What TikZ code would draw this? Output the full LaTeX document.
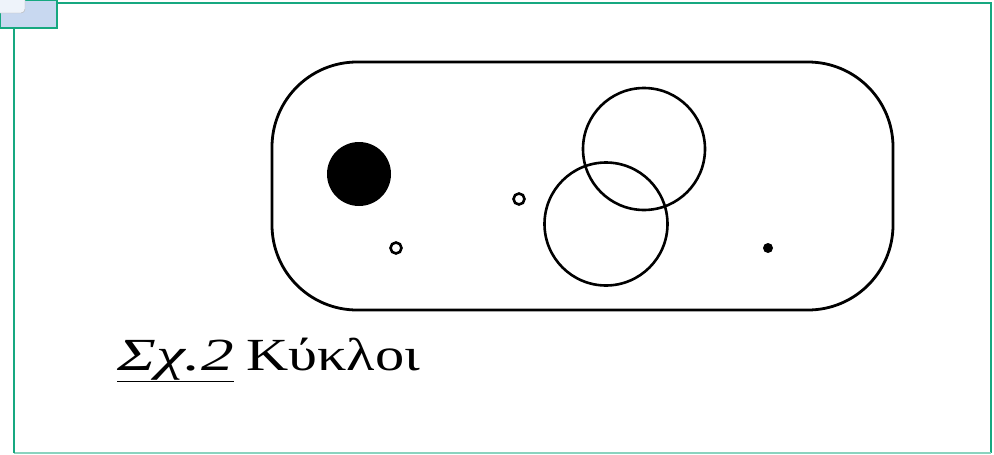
\documentclass[tikz,border=0pt]{standalone}
\usepackage{fontspec}
\setmainfont{Liberation Serif}
\usepackage{tikz}
\usepackage{xcolor}
\definecolor{frameteal}{RGB}{22,168,128}
\definecolor{iconblue}{RGB}{200,216,240}

\begin{document}
\begin{tikzpicture}[
  x=1pt, y=-1pt,
  outline/.style={draw, line width=2.8pt},
  ring/.style={draw, line width=2.6pt},
  frameline/.style={draw=frameteal, line width=1.8pt},
  caption/.style={anchor=base west, inner sep=0pt, font=\fontsize{46}{50}\selectfont}
]
\useasboundingbox (0,0) rectangle (994,455);
% frame and icon
\draw[frameline] (57,3) -- (991,3) -- (991,453);
\draw[draw=frameteal!50, line width=1.8pt] (991,453) -- (14,453);
\draw[frameline] (14,453) -- (14,28);
\draw[frameline, fill=iconblue] (0,0) rectangle (57,28);
\draw[draw=gray!60, fill=white!70!iconblue, rounded corners=4pt] (-4,-4) rectangle (25,13);
% outline
\draw[outline, rounded corners=85pt] (272,62) rectangle (893,310);
% circles
\fill (359,174) circle (32);
\draw[ring] (396,248) circle (5.5);
\draw[ring] (519,199) circle (5.5);
\fill (768,248) circle (5);
\draw[ring] (644,149) circle (61);
\draw[ring] (606,224) circle (61.5);
% caption
\node[caption] (fignum) at (117,370) {\scalebox{1.42}[1]{\textit{\underline{Σχ.2}}}};
\node[caption] (figname) at (246,370) {\scalebox{1.27}[1]{Κύκλοι}};
\end{tikzpicture}
\end{document}
